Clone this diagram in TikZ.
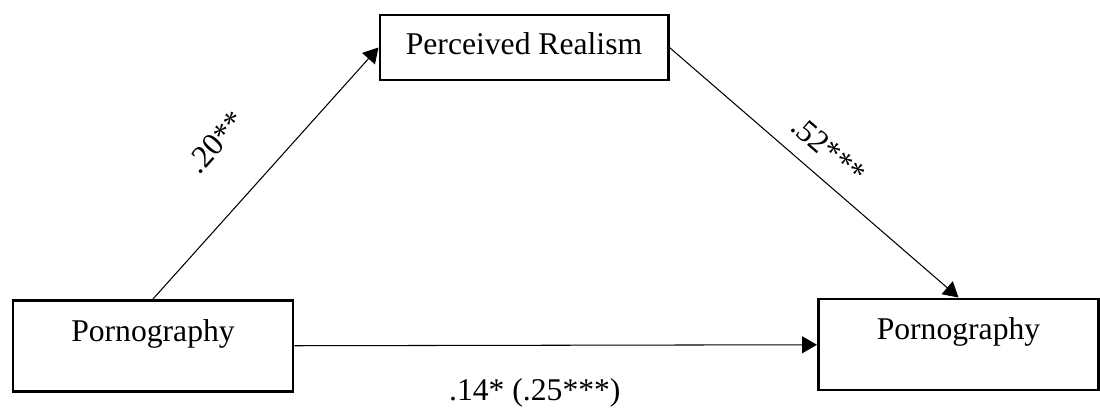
\documentclass[tikz,border=0pt]{standalone}
\usepackage{fontspec}
\setmainfont{Liberation Serif}
\usetikzlibrary{arrows.meta}

\begin{document}
\begin{tikzpicture}[
    every node/.style={font=\fontsize{18}{21}\selectfont},
    construct/.style={draw=black, line width=1.7pt, inner sep=0pt,
        minimum width=5.6cm, minimum height=1.82cm,
        text height=0.82cm, text depth=1.0cm},
    mediator/.style={construct, minimum width=5.76cm, minimum height=1.3cm,
        text height=0.8cm, text depth=0.5cm},
    path/.style={draw=black, line width=0.6pt,
        -{Triangle[length=3mm, width=3.4mm]}},
    coef/.style={inner sep=0pt}
]
\useasboundingbox (0,0) rectangle (22,8.14);
\node[construct] (porn1) at (3.06, 1.22) {Pornography};
\node[mediator]  (real)  at (10.48, 7.19) {Perceived Realism};
\node[construct] (porn2) at (19.17, 1.25) {Pornography};
\draw[path] (porn1.north) -- node[coef, pos=0.47, sloped, above=0.93cm]{.20**} (real.west);
\draw[path] (real.east) -- node[coef, pos=0.49, sloped, above=0.31cm]{.52***} (porn2.north);
\draw[path] (porn1) -- node[coef, pos=0.46, below=0.66cm]{.14* (.25***)} (porn2);
\end{tikzpicture}
\end{document}
